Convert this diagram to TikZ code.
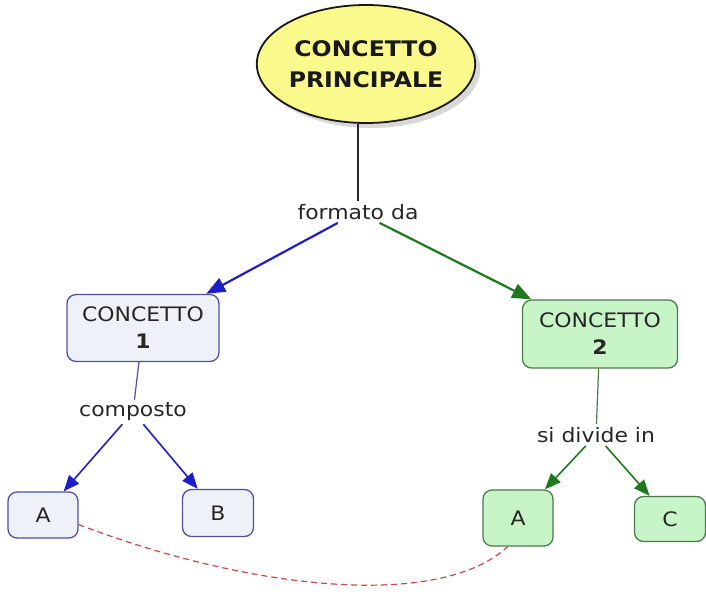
\documentclass[tikz,border=0pt]{standalone}
\usepackage{fontspec}
\setmainfont{DejaVu Sans}[FakeStretch=1.1]
\usetikzlibrary{arrows.meta,shapes.geometric,shadows}
\definecolor{mainfill}{HTML}{FAFA8C}
\definecolor{bluefill}{HTML}{EEF2F8}
\definecolor{blueline}{HTML}{50509E}
\definecolor{greenfill}{HTML}{C8F5C8}
\definecolor{greenline}{HTML}{4C7A4C}
\definecolor{bluearr}{HTML}{1E1EC8}
\definecolor{greenarr}{HTML}{1E781E}
\definecolor{dashred}{HTML}{C84646}
\begin{document}
\begin{tikzpicture}[x=1bp, y=-1bp,
  mainconcept/.style={ellipse, draw=black!90, line width=1.8bp, fill=mainfill, inner sep=0pt, minimum width=217bp, minimum height=118bp, align=center, text=black!90, font=\fontsize{21.5}{31}\selectfont\bfseries, drop shadow={shadow xshift=5bp, shadow yshift=-5bp, fill=black!30}},
  bluebox/.style={rectangle, rounded corners=9bp, draw=blueline, line width=1.3bp, fill=bluefill, align=center, text=black!85, font=\fontsize{20}{27}\selectfont},
  greenbox/.style={rectangle, rounded corners=9bp, draw=greenline, line width=1.3bp, fill=greenfill, align=center, text=black!85, font=\fontsize{20}{27}\selectfont},
  linkword/.style={inner sep=3bp, text=black!85, font=\fontsize{20}{24}\selectfont},
  bluearrow/.style={color=bluearr, line width=2.2bp, -{Triangle[length=19bp, width=15bp]}},
  greenarrow/.style={color=greenarr, line width=2.2bp, -{Triangle[length=19bp, width=15bp]}},
  smalltip/.style={line width=1.6bp, -{Triangle[length=16bp, width=13bp]}},
  crosslink/.style={draw=dashred, line width=1.2bp, dash pattern=on 6bp off 4bp}]

\useasboundingbox (0,0) rectangle (706,598);

\node [mainconcept] (main) at (366,64) {CONCETTO\\PRINCIPALE};
\node [linkword] (lab1) at (358,212) {formato da};

\node [bluebox, minimum width=152bp, minimum height=67bp] (c1) at (143,328) {CONCETTO\\\textbf{1}};
\node [greenbox, minimum width=155bp, minimum height=68bp] (c2) at (600,334) {CONCETTO\\\textbf{2}};

\node [linkword] (lab2) at (133,412) {composto};
\node [linkword] (lab3) at (596,435) {si divide in};

\node [bluebox, minimum width=70bp, minimum height=46bp] (a1) at (43,515) {A};
\node [bluebox, minimum width=71bp, minimum height=47bp] (b) at (218,513) {B};
\node [greenbox, minimum width=70bp, minimum height=56bp] (a2) at (518,518) {A};
\node [greenbox, minimum width=71bp, minimum height=45bp] (c) at (670,519) {C};

\draw [line width=1.6bp, black!85] (main.south -| lab1) -- (lab1);
\draw [bluearrow] (lab1) edge (c1);
\draw [greenarrow] (lab1) edge (c2);

\draw [line width=1.2bp, blueline] (c1) -- (lab2);
\draw [bluearrow, smalltip] (lab2) edge (a1);
\draw [bluearrow, smalltip] (lab2) edge (b);

\draw [line width=1.2bp, greenline] (c2) -- (lab3);
\draw [greenarrow, smalltip] (lab3) edge (a2);
\draw [greenarrow, smalltip] (lab3) edge (c);

\draw [crosslink] (a1.-15) .. controls (250,590) and (440,610) .. (a2.-110);

\end{tikzpicture}
\end{document}
